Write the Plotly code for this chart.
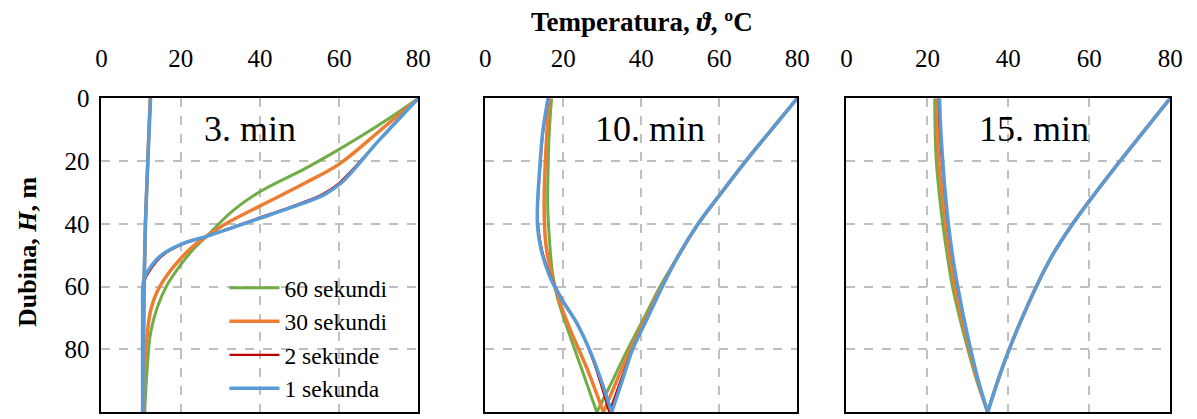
import plotly.graph_objects as go

# ---------------- data: temperature (degC) vs depth (m) ----------------
series_names = ["60 sekundi", "30 sekundi", "2 sekunde", "1 sekunda"]
series_colors = ["#70AD47", "#ED7D31", "#C00000", "#5B9BD5"]
series_widths = [3, 3.5, 2.25, 3.5]
panel_labels = ["3. min", "10. min", "15. min"]
x_ticks = [0, 20, 40, 60, 80]
y_ticks = [0, 20, 40, 60, 80, 100]

# Panel 1: 3 min  (down-flow to 100 m, then up-flow back to 0 m)
p1_s60_T = [80, 71.3, 60.1, 51.4, 40.2, 33.2, 26.5, 23.2, 19.9, 16.6, 14.1, 12.4, 11.6, 10.9, 10.7, 10.8, 11.1, 11.7, 12.3]
p1_s60_H = [0, 7.5, 16.2, 22.4, 29.6, 35.8, 44.0, 48.1, 53.2, 59.4, 66.6, 74.8, 85.1, 100, 80, 60, 40, 20, 0]
p1_s30_T = [80, 70.5, 60.1, 51.4, 40.2, 31.5, 26.5, 23.2, 19.9, 16.6, 14.1, 12.4, 11.6, 10.9, 10.6, 10.6, 10.8, 11.1, 11.7, 12.3]
p1_s30_H = [0, 10.1, 20.9, 27.0, 34.2, 39.9, 44.0, 47.1, 51.2, 56.3, 61.5, 67.6, 74.8, 85.1, 100, 80, 60, 40, 20, 0]
p1_s2_T = [80, 70, 60, 55.8, 47.5, 39.3, 31.2, 26.5, 20.3, 15.3, 12.0, 10.8, 10.4, 10.4, 10.5, 10.7, 11.1, 11.7, 12.4]
p1_s2_H = [0, 13.5, 27, 30.6, 34.7, 38.3, 41.9, 44.0, 46.6, 50.2, 55.3, 58.4, 70, 100, 80, 60, 40, 20, 0]
p1_s1_T = [80, 70, 60.5, 56.4, 48.1, 39.8, 31.5, 26.5, 19.9, 14.9, 11.6, 10.6, 10.4, 10.4, 10.5, 10.7, 11.1, 11.7, 12.4]
p1_s1_H = [0, 13.5, 27, 30.6, 34.7, 38.3, 41.9, 44.0, 46.6, 50.2, 55.3, 58.4, 70, 100, 80, 60, 40, 20, 0]

# Panel 2: 10 min
p2_s60_T = [80, 73.4, 66.8, 60.6, 54.6, 49.6, 44.8, 40.7, 36.5, 32.6, 28.6, 24.4, 20.6, 18.5, 17.2, 16.4, 16.0, 16.1, 16.4, 17.0]
p2_s60_H = [0, 10, 20, 30, 40, 50, 60, 70, 80, 90, 100, 85.1, 71.7, 63.5, 55.3, 44.0, 33.7, 23.4, 11.1, 0]
p2_s30_T = [80, 73.4, 66.8, 60.6, 54.6, 49.6, 45.2, 41.2, 37.2, 33.7, 30.3, 26.1, 21.8, 19.3, 17.2, 15.5, 15.1, 15.3, 15.8, 16.4]
p2_s30_H = [0, 10, 20, 30, 40, 50, 60, 70, 80, 90, 100, 86.1, 73.8, 65.6, 57.3, 46.0, 33.7, 23.4, 11.1, 0]
p2_s2_T = [80, 73.4, 66.8, 60.6, 54.6, 49.6, 45.4, 41.5, 37.7, 34.7, 31.8, 27.5, 23.6, 19.5, 16.6, 14.5, 13.6, 13.5, 14.0, 14.8, 16.2]
p2_s2_H = [0, 10, 20, 30, 40, 50, 60, 70, 80, 90, 100, 83.0, 71.7, 63.5, 56.3, 48.1, 40.9, 33.7, 23.4, 11.1, 0]
p2_s1_T = [80, 73.4, 66.8, 60.6, 54.6, 49.6, 45.4, 41.6, 37.8, 35.1, 32.4, 27.7, 23.5, 19.3, 16.4, 14.3, 13.4, 13.4, 13.9, 14.7, 16.1]
p2_s1_H = [0, 10, 20, 30, 40, 50, 60, 70, 80, 90, 100, 83.0, 71.7, 63.5, 56.3, 48.1, 40.9, 33.7, 23.4, 11.1, 0]

# Panel 3: 15 min
p3_H = [0, 10, 20, 30, 40, 50, 60, 70, 80, 90, 100, 90, 80, 70, 60, 50, 40, 30, 20, 10, 0]
p3_s60_T = [80, 73.8, 67.6, 61.6, 55.9, 50.9, 46.9, 43.4, 40.2, 37.4, 34.9, 32.2, 30.0, 28.0, 26.2, 24.9, 23.8, 22.9, 22.2, 21.9, 21.8]
p3_s30_T = [80, 73.8, 67.6, 61.6, 55.9, 50.9, 46.9, 43.4, 40.2, 37.4, 34.9, 32.4, 30.4, 28.5, 26.8, 25.5, 24.5, 23.6, 22.8, 22.5, 22.3]
p3_s2_T = [80, 73.8, 67.6, 61.6, 55.9, 50.9, 46.9, 43.4, 40.2, 37.4, 34.9, 32.6, 30.7, 29.0, 27.4, 26.1, 25.1, 24.3, 23.6, 23.1, 22.8]
p3_s1_T = [80, 73.8, 67.6, 61.6, 55.9, 50.9, 46.9, 43.4, 40.2, 37.4, 34.9, 32.6, 30.7, 29.0, 27.5, 26.2, 25.2, 24.4, 23.8, 23.3, 23.0]

panels = [
    [(p1_s60_T, p1_s60_H), (p1_s30_T, p1_s30_H), (p1_s2_T, p1_s2_H), (p1_s1_T, p1_s1_H)],
    [(p2_s60_T, p2_s60_H), (p2_s30_T, p2_s30_H), (p2_s2_T, p2_s2_H), (p2_s1_T, p2_s1_H)],
    [(p3_s60_T, p3_H), (p3_s30_T, p3_H), (p3_s2_T, p3_H), (p3_s1_T, p3_H)],
]

# ---------------- figure ----------------
W, H = 1197, 419
FONT = "Times New Roman, Liberation Serif, serif"
x_domains = [(97, 419), (487, 804), (854, 1183)]
y_dom = [1 - 412 / H, 1 - 88 / H]
label_x = [248, 654, 1045]

fig = go.Figure()
for p, series in enumerate(panels):
    xa = "x" if p == 0 else f"x{p+1}"
    ya = "y" if p == 0 else f"y{p+1}"
    for s, (T, D) in enumerate(series):
        k = D.index(max(D))
        for part, (tt, dd) in enumerate([(T[:k + 1], D[:k + 1]), (T[k:], D[k:])]):
            fig.add_trace(go.Scatter(
                x=tt, y=dd, mode="lines", name=series_names[s],
                legendgroup=series_names[s],
                line=dict(color=series_colors[s], width=series_widths[s],
                          shape="spline", smoothing=1.0),
                xaxis=xa, yaxis=ya, showlegend=(p == 0 and part == 0),
                hoverinfo="skip"))

layout = dict(
    width=W, height=H, margin=dict(l=0, r=0, t=0, b=0),
    paper_bgcolor="white", plot_bgcolor="white",
    font=dict(family=FONT, size=24, color="black"),
    showlegend=True,
    legend=dict(x=222 / W, y=1 - 261 / H, xanchor="left", yanchor="top",
                bgcolor="rgba(0,0,0,0)", font=dict(size=23.5, family=FONT),
                traceorder="normal", tracegroupgap=0, itemwidth=50),
)
for p in range(3):
    xk = "xaxis" if p == 0 else f"xaxis{p+1}"
    yk = "yaxis" if p == 0 else f"yaxis{p+1}"
    ya = "y" if p == 0 else f"y{p+1}"
    xa = "x" if p == 0 else f"x{p+1}"
    layout[xk] = dict(
        domain=[x_domains[p][0] / W, x_domains[p][1] / W], anchor=ya, side="top",
        range=[0, 80], tickvals=x_ticks, ticks="", showline=True, linecolor="black",
        linewidth=2, mirror=True, showgrid=True, gridcolor="#BFBFBF", griddash="dash",
        gridwidth=1.5, zeroline=False, ticklabelstandoff=19,
        tickfont=dict(size=25, family=FONT))
    layout[yk] = dict(
        domain=y_dom, anchor=xa, range=[100, 0], tickvals=y_ticks, ticks="",
        showline=True, linecolor="black", linewidth=2, mirror=True,
        showgrid=True, gridcolor="#BFBFBF", griddash="dash", gridwidth=1.5,
        zeroline=False, showticklabels=(p == 0), ticklabelstandoff=5,
        tickfont=dict(size=25, family=FONT))
fig.update_layout(**layout)

# panel labels
for p in range(3):
    fig.add_annotation(text=panel_labels[p], x=label_x[p] / W, y=1 - 120 / H,
                       xref="paper", yref="paper", showarrow=False,
                       xanchor="center", yanchor="middle",
                       font=dict(size=36, family=FONT, color="black"))

# axis titles
fig.add_annotation(text="<b>Temperatura, <i>ϑ</i>, ºC</b>", x=646 / W, y=1 - 9 / H,
                   xref="paper", yref="paper", showarrow=False,
                   xanchor="center", yanchor="middle",
                   font=dict(size=27, family=FONT, color="black"))
fig.add_annotation(text="<b>Dubina, <i>H</i>, m</b>", x=22 / W, y=1 - 246 / H,
                   xref="paper", yref="paper", showarrow=False, textangle=-90,
                   xanchor="center", yanchor="middle",
                   font=dict(size=26, family=FONT, color="black"))

fig.write_html("out.html", config={"displayModeBar": False},
               post_script="document.body.style.margin='0';document.body.style.overflow='hidden';")
